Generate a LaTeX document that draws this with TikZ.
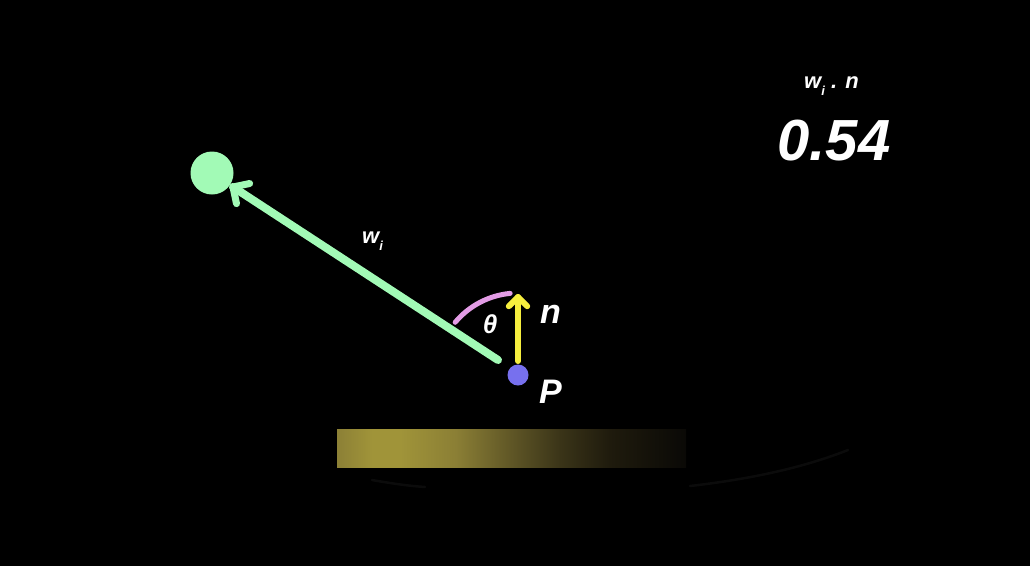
\documentclass[tikz,border=0pt]{standalone}
\usepackage{fontspec}
\setmainfont{Liberation Sans}
\usetikzlibrary{calc}
\definecolor{mint}{HTML}{A2FAB6}
\definecolor{ylw}{HTML}{F6EE3E}
\definecolor{pinkarc}{HTML}{E39CE6}
\definecolor{dotblue}{HTML}{7770EE}
\definecolor{faint}{HTML}{0B0B0B}
\definecolor{b0}{HTML}{8C8036}
\definecolor{b1}{HTML}{A09439}
\definecolor{b2}{HTML}{8B7F35}
\definecolor{b3}{HTML}{5F5626}
\definecolor{b4}{HTML}{3A3418}
\definecolor{b5}{HTML}{1F1B0D}
\definecolor{b6}{HTML}{0A0906}
\pgfdeclarehorizontalshading{barshade}{100bp}{%
  color(0bp)=(b0); color(25bp)=(b0); color(30bp)=(b1); color(34bp)=(b1);
  color(42bp)=(b2); color(50bp)=(b3); color(57bp)=(b4); color(64bp)=(b5);
  color(75bp)=(b6); color(100bp)=(b6)}
\tikzset{
  lbl/.style={text=white, font=\bfseries\itshape, inner sep=0pt},
  vecline/.style={line width=#1, line cap=round, line join=round},
}
\begin{document}
\begin{tikzpicture}[x=1pt,y=-1pt]
\path[fill=black] (0,0) rectangle (1030,566);
% bar and faint shadow
\path[shading=barshade] (337,429) rectangle (686,467);
\draw[faint, line width=2.5pt, line cap=round] (372,480) .. controls (395,484) and (410,486) .. (425,487);
\draw[faint, line width=2.5pt, line cap=round] (690,486) .. controls (760,478) and (810,465) .. (848,450);
% points
\node[circle, fill=mint, minimum size=43pt, inner sep=0pt] (light) at (212,173) {};
\node[circle, fill=dotblue, minimum size=21pt, inner sep=0pt] (P) at (518,375) {};
\coordinate (gs) at (498,360);
\coordinate (gt) at (233,187);
\coordinate (ys) at (518,361);
\coordinate (yt) at (518,297);
% pink angle arc
\draw[pinkarc, vecline=5pt] (P) ++(-140:82) arc[start angle=-140, end angle=-95.5, radius=82];
% green vector
\draw[mint, vecline=8pt] (gs) -- (gt);
\draw[mint, vecline=7pt] ($(gt)!17pt!45:(gs)$) -- (gt) -- ($(gt)!17pt!-45:(gs)$);
% yellow normal
\draw[ylw, vecline=6pt] (ys) -- (yt);
\draw[ylw, vecline=6pt] ($(yt)!13pt!45:(ys)$) -- (yt) -- ($(yt)!13pt!-45:(ys)$);
% labels
\node[lbl, anchor=base west] (nlab) at (540,323) {\fontsize{34}{36}\selectfont n};
\node[lbl, anchor=base west] (Plab) at (539,403) {\fontsize{34}{36}\selectfont P};
\node[lbl, anchor=base] (th) at (490,333) {\fontsize{26}{28}\selectfont θ};
\node[lbl, anchor=base west] (wlab) at (362,243) {\fontsize{22}{22}\selectfont w\raisebox{-7pt}{\fontsize{13}{13}\selectfont i}};
\node[lbl, anchor=base west] (dotlab) at (804,88) {\fontsize{22}{22}\selectfont w\raisebox{-7pt}{\fontsize{13}{13}\selectfont i} . n};
\node[lbl, anchor=base] (val) at (834,160) {\fontsize{58}{60}\selectfont 0.54};
\end{tikzpicture}
\end{document}
